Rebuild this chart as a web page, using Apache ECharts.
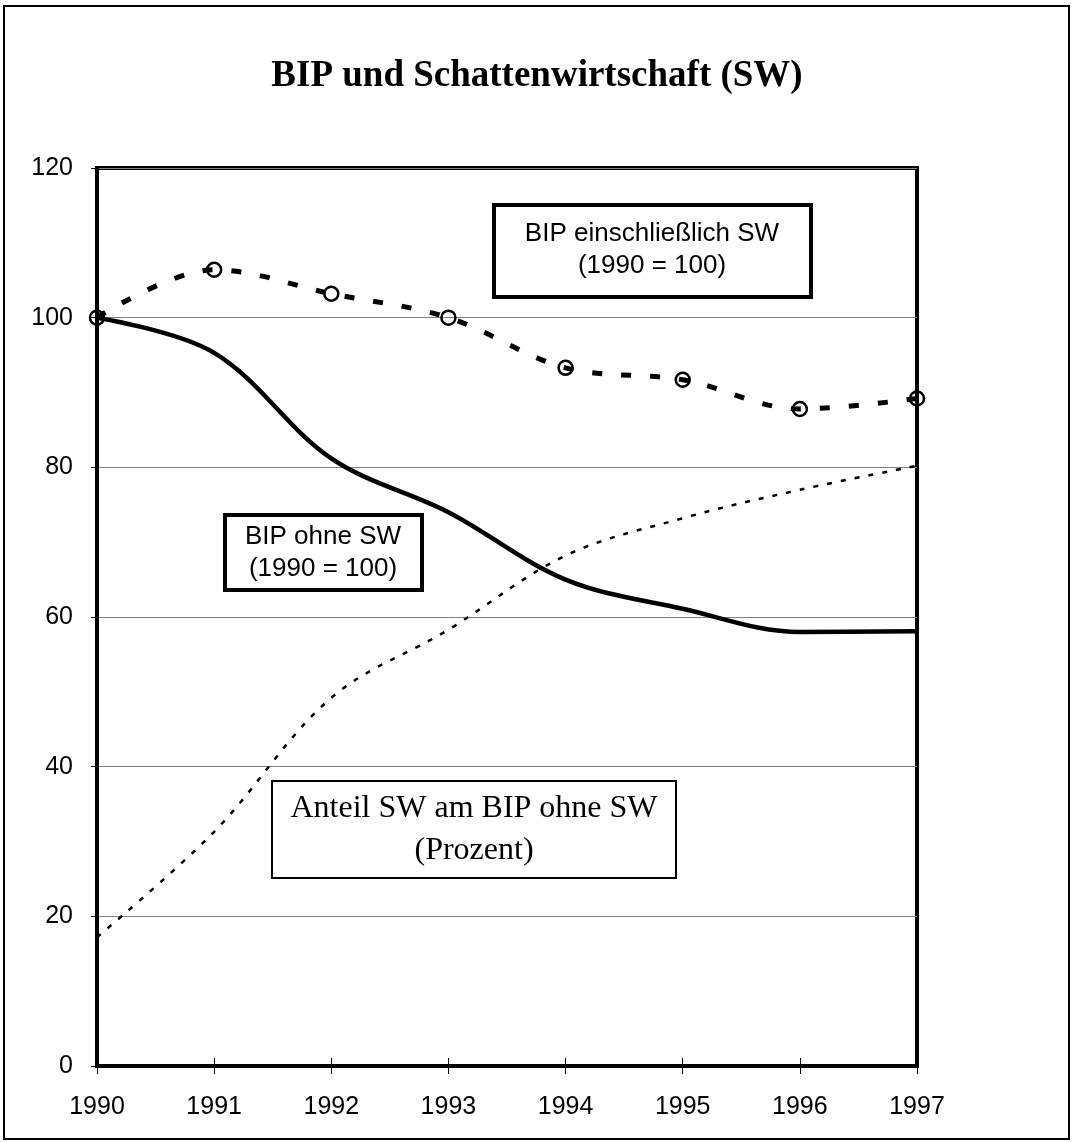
<!DOCTYPE html>
<html>
<head>
<meta charset="utf-8">
<script src="https://cdn.jsdelivr.net/npm/echarts@6/dist/echarts.min.js"></script>
<style>
  html, body { margin: 0; padding: 0; background: #fff; }
  #main { width: 1074px; height: 1142px; }
</style>
</head>
<body>
<div id="main"></div>
<script>
// Jahre (x-Achse)
const years = ['1990', '1991', '1992', '1993', '1994', '1995', '1996', '1997'];
// BIP einschließlich SW (1990 = 100)
const bipMitSW = [100, 106.4, 103.2, 100, 93.3, 91.7, 87.8, 89.2];
// BIP ohne SW (1990 = 100)
const bipOhneSW = [100, 95.3, 81.2, 74, 65, 61.1, 58, 58.1];
// Anteil SW am BIP ohne SW (Prozent)
const anteilSW = [17.2, 31.3, 49.2, 58.3, 68.2, 73.2, 77, 80.2];

const sans = 'Liberation Sans, Arial, sans-serif';
const serif = 'Liberation Serif, Times New Roman, serif';

const chart = echarts.init(document.getElementById('main'));

const option = {
    backgroundColor: '#fff',
    animation: false,
    title: {
        text: 'BIP und Schattenwirtschaft (SW)',
        left: 'center',
        top: 53,
        textStyle: {
            fontFamily: serif,
            fontSize: 37,
            fontWeight: 'bold',
            color: '#000'
        }
    },
    grid: {
        left: 97,
        right: 157,
        top: 168,
        bottom: 76,
        show: true,
        borderColor: '#000',
        borderWidth: 4
    },
    xAxis: [
        {
            type: 'category',
            data: years,
            boundaryGap: false,
            axisLine: { lineStyle: { color: '#000', width: 4 } },
            axisTick: { show: true, length: 8, lineStyle: { color: '#000', width: 1 } },
            axisLabel: { margin: 29, fontFamily: sans, fontSize: 25, color: '#000' },
            splitLine: { show: false }
        },
        {
            type: 'category',
            data: years,
            position: 'bottom',
            boundaryGap: false,
            axisLine: { show: false },
            axisTick: { show: true, inside: true, length: 8, lineStyle: { color: '#000', width: 1 } },
            axisLabel: { show: false },
            splitLine: { show: false }
        }
    ],
    yAxis: {
        type: 'value',
        min: 0,
        max: 120,
        interval: 20,
        axisLine: { show: true, lineStyle: { color: '#000', width: 4 } },
        axisTick: { show: true, length: 6, lineStyle: { color: '#000', width: 1 } },
        axisLabel: { margin: 24, fontFamily: sans, fontSize: 25, color: '#000' },
        splitLine: { lineStyle: { color: '#808080', width: 1 } }
    },
    series: [
        {
            name: 'BIP einschließlich SW',
            type: 'line',
            data: bipMitSW,
            smooth: 0.35,
            symbol: 'circle',
            symbolSize: 14,
            itemStyle: { color: 'rgba(255,255,255,0)', borderColor: '#000', borderWidth: 2.5 },
            lineStyle: { color: '#000', width: 5, type: [10, 19] },
            z: 5
        },
        {
            name: 'BIP ohne SW',
            type: 'line',
            data: bipOhneSW,
            smooth: 0.35,
            showSymbol: false,
            lineStyle: { color: '#000', width: 4.5 },
            z: 4
        },
        {
            name: 'Anteil SW am BIP ohne SW',
            type: 'line',
            data: anteilSW,
            smooth: 0.35,
            showSymbol: false,
            lineStyle: { color: '#000', width: 2.5, type: [5, 9] },
            z: 3
        }
    ],
    graphic: [
        // äußerer Rahmen
        {
            type: 'rect',
            shape: { x: 4, y: 6, width: 1065, height: 1133 },
            style: { fill: 'none', stroke: '#000', lineWidth: 2 },
            silent: true
        },
        {
            type: 'group',
            left: 492, top: 203,
            z: 10,
            children: [
                { type: 'rect', shape: { x: 0, y: 0, width: 317, height: 92 },
                  style: { fill: '#fff', stroke: '#000', lineWidth: 4 } },
                { type: 'text', x: 158, y: 45,
                  style: { text: 'BIP einschließlich SW\n(1990 = 100)', fill: '#000',
                           font: '26px ' + sans, align: 'center', verticalAlign: 'middle', lineHeight: 32 } }
            ]
        },
        {
            type: 'group',
            left: 223, top: 513,
            z: 10,
            children: [
                { type: 'rect', shape: { x: 0, y: 0, width: 197, height: 75 },
                  style: { fill: '#fff', stroke: '#000', lineWidth: 4 } },
                { type: 'text', x: 98, y: 38,
                  style: { text: 'BIP ohne SW\n(1990 = 100)', fill: '#000',
                           font: '26px ' + sans, align: 'center', verticalAlign: 'middle', lineHeight: 32 } }
            ]
        },
        {
            type: 'group',
            left: 271, top: 780,
            z: 10,
            children: [
                { type: 'rect', shape: { x: 0, y: 0, width: 404, height: 97 },
                  style: { fill: '#fff', stroke: '#000', lineWidth: 2 } },
                { type: 'text', x: 202, y: 49,
                  style: { text: 'Anteil SW am BIP ohne SW\n(Prozent)', fill: '#000',
                           font: '32px ' + serif, align: 'center', verticalAlign: 'middle', lineHeight: 42 } }
            ]
        }
    ]
};

chart.setOption(option);
</script>
</body>
</html>
